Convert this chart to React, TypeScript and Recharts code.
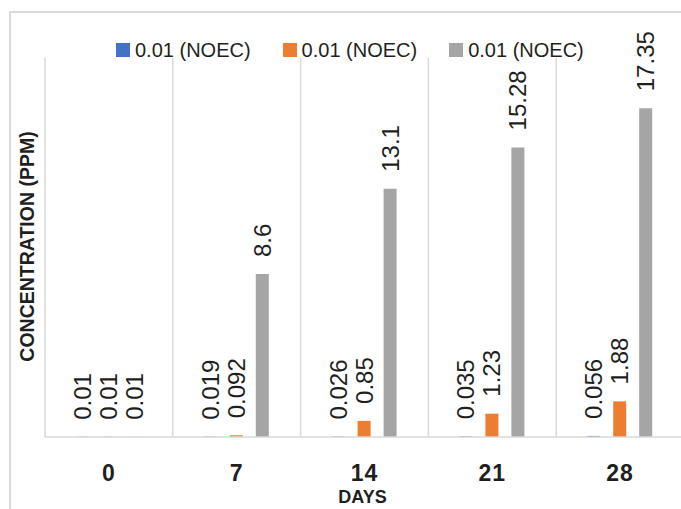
import React from 'react';
import { BarChart, Bar, XAxis, YAxis, CartesianGrid, LabelList } from 'recharts';

// Sampling days and measured concentrations (ppm)
const days = ['0', '7', '14', '21', '28'];
const seriesA = [0.01, 0.019, 0.026, 0.035, 0.056];
const seriesB = [0.01, 0.092, 0.85, 1.23, 1.88];
const seriesC = [0.01, 8.6, 13.1, 15.28, 17.35];
const seriesNames = ['0.01 (NOEC)', '0.01 (NOEC)', '0.01 (NOEC)'];
const seriesColors = ['#4472C4', '#ED7D31', '#A5A5A5'];
const seriesKeys = ['a', 'b', 'c'];

const data = days.map((d, i) => ({ day: d, a: seriesA[i], b: seriesB[i], c: seriesC[i] }));

const FONT = '"Liberation Sans", Arial, sans-serif';
const TEXT = '#1f1f1f';
const GRID = '#D9D9D9';

const VerticalValue = (props: any) => {
  const { x, y, width, value } = props;
  const cx = Number(x) + Number(width) / 2;
  const ty = Number(y) - 17;
  return (
    <text
      x={cx}
      y={ty}
      transform={`rotate(-90 ${cx} ${ty})`}
      textAnchor="start"
      dominantBaseline="central"
      fontSize={24}
      fontFamily={FONT}
      fill={TEXT}
    >
      {value}
    </text>
  );
};

const DayTick = (props: any) => {
  const { x, y, payload } = props;
  return (
    <text
      x={x}
      y={Number(y) + 36}
      textAnchor="middle"
      dominantBaseline="central"
      fontSize={23}
      fontWeight="bold"
      fontFamily={FONT}
      fill={TEXT}
      letterSpacing={1}
    >
      {payload.value}
    </text>
  );
};

const boundaryLines = ({ offset }: any) => {
  const n = days.length;
  return Array.from({ length: n + 1 }, (_, i) => offset.left + (i * offset.width) / n);
};

export default function App() {
  return (
    <div
      style={{
        position: 'absolute',
        left: 0,
        top: 0,
        width: 681,
        height: 509,
        overflow: 'hidden',
        background: '#fff',
      }}
    >
      <div
        style={{
          position: 'absolute',
          left: 9,
          top: 11,
          width: 720,
          height: 600,
          border: `2px solid ${GRID}`,
          boxSizing: 'border-box',
        }}
      />
      <div style={{ position: 'absolute', left: 0, top: 0 }}>
        <BarChart
          width={700}
          height={509}
          data={data}
          margin={{ top: 58, right: 16, bottom: 0, left: 0 }}
          barSize={13}
          barGap={13}
        >
          <CartesianGrid
            horizontal={false}
            vertical
            stroke={GRID}
            strokeWidth={1.5}
            verticalCoordinatesGenerator={boundaryLines}
          />
          <XAxis
            dataKey="day"
            height={72}
            tickLine={false}
            tickSize={0}
            tickMargin={0}
            axisLine={{ stroke: GRID, strokeWidth: 1.5 }}
            tick={<DayTick />}
            interval={0}
            label={(p: any) => {
              const vb = p.viewBox;
              const cx = vb.x + vb.width / 2 - 2;
              return (
                <text
                  x={cx}
                  y={497}
                  textAnchor="middle"
                  dominantBaseline="central"
                  fontSize={18}
                  fontWeight="bold"
                  fontFamily={FONT}
                  fill={TEXT}
                >
                  DAYS
                </text>
              );
            }}
          />
          <YAxis
            width={45}
            domain={[0, 20]}
            tick={false}
            tickLine={false}
            axisLine={false}
            label={(p: any) => {
              const vb = p.viewBox;
              const cx = vb.x + 27;
              const cy = vb.y + vb.height / 2 - 1;
              return (
                <text
                  x={cx}
                  y={cy}
                  transform={`rotate(-90 ${cx} ${cy})`}
                  textAnchor="middle"
                  dominantBaseline="central"
                  fontSize={19.5}
                  fontWeight="bold"
                  fontFamily={FONT}
                  fill={TEXT}
                >
                  CONCENTRATION (PPM)
                </text>
              );
            }}
          />
          {seriesKeys.map((k, i) => (
            <Bar key={k} dataKey={k} name={seriesNames[i]} fill={seriesColors[i]} isAnimationActive={false}>
              <LabelList dataKey={k} content={<VerticalValue />} />
            </Bar>
          ))}
        </BarChart>
      </div>
      <div
        style={{
          position: 'absolute',
          left: 116,
          top: 40,
          height: 20,
          display: 'flex',
          alignItems: 'center',
          fontFamily: FONT,
          fontSize: 20,
          color: TEXT,
          whiteSpace: 'nowrap',
        }}
      >
        {seriesNames.map((n, i) => (
          <div key={i} style={{ display: 'flex', alignItems: 'center', marginRight: 32 }}>
            <span
              style={{
                display: 'inline-block',
                width: 14,
                height: 14,
                background: seriesColors[i],
                marginRight: 5,
              }}
            />
            <span>{n}</span>
          </div>
        ))}
      </div>
    </div>
  );
}
